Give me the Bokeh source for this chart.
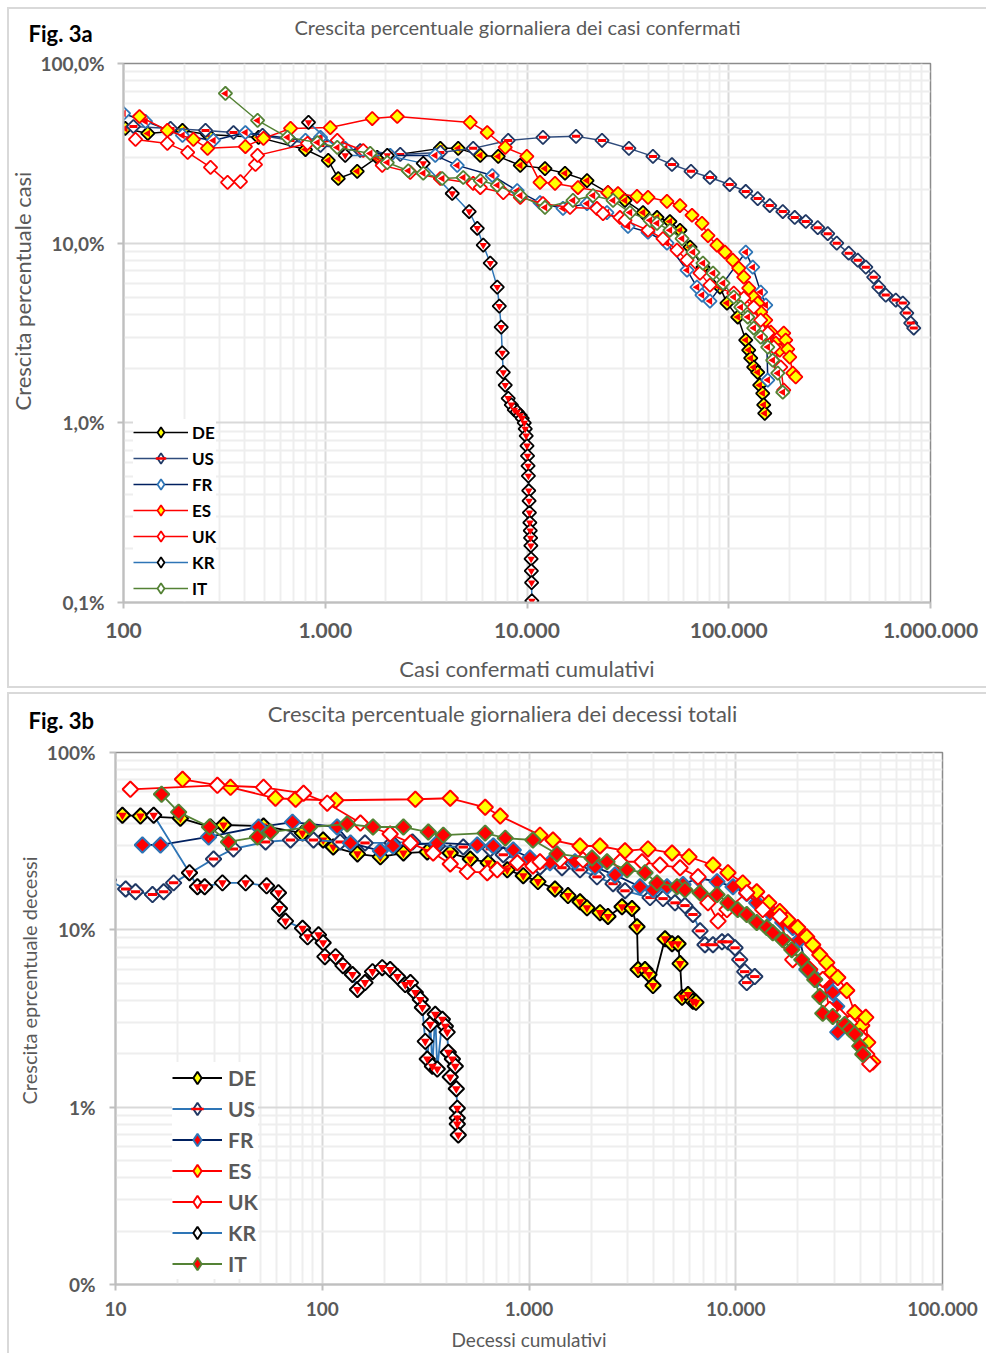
import math
from bokeh.plotting import figure
from bokeh.models import (FixedTicker, Legend, LegendItem, Range1d, ColumnDataSource, Title)
from bokeh.core.properties import value
from bokeh.embed import file_html
from bokeh.resources import INLINE

FONT = "Lato"
GRAY = "#595959"

paesi = ["DE", "US", "FR", "ES", "UK", "KR", "IT"]

# ---------------- Fig. 3a : casi confermati ----------------
casi_DE = [102, 132, 196, 261, 467, 798, 1035, 1160, 1440, 1810, 3720, 4560, 5870, 7200, 9260,
           12280, 15430, 19840, 25200, 30600, 37600, 44100, 51100, 57300, 64300, 74500, 90500,
           98000, 110800, 121400, 125600, 128500, 133000, 139200, 142400, 147400, 149100, 150800]
cresc_casi_DE = [43.5, 40.8, 42.4, 40.3, 38.8, 33.2, 28.9, 22.9, 25.1, 30.0, 33.7, 33.7, 30.8, 30.4,
                 27.1, 26.0, 24.5, 22.3, 19.1, 17.3, 14.8, 13.9, 13.2, 11.8, 9.50, 7.35, 5.69, 4.64,
                 3.88, 2.89, 2.54, 2.29, 2.04, 1.91, 1.62, 1.46, 1.26, 1.13]

casi_US = [112, 171, 255, 351, 489, 673, 947, 1491, 2354, 3720, 5410, 8070, 12000, 17500, 23540,
           32000, 42100, 52300, 65000, 80700, 101100, 121400, 139200, 159700, 185300, 212400,
           240800, 276100, 309500, 343000, 393000, 436000, 478000, 523000, 554000, 600000,
           673000, 729000, 763000, 798000, 826000]
cresc_casi_US = [44.6, 43.5, 42.4, 41.3, 39.8, 37.3, 35.0, 32.8, 31.2, 32.0, 33.7, 37.3, 38.8, 39.3,
                 37.3, 33.7, 30.4, 27.4, 25.1, 23.2, 21.2, 19.4, 17.7, 16.2, 15.0, 13.9, 13.2, 12.2,
                 11.3, 10.0, 8.80, 8.04, 7.35, 6.47, 5.69, 5.14, 4.82, 4.64, 4.08, 3.59, 3.37]

casi_FR = [100, 128.5, 196, 279, 402, 798, 947, 1256, 2100, 3510, 4510, 6730, 8940, 11600, 15080,
           19840, 24900, 31670, 39800, 49400, 62100, 69600, 73700, 80700, 121400, 131500, 144000,
           152500, 154300, 156100]
cresc_casi_FR = [52.7, 47.6, 39.8, 37.3, 41.3, 37.3, 38.8, 33.7, 30.8, 30.8, 27.1, 23.8, 19.6, 16.8,
                 15.6, 16.6, 14.8, 12.4, 11.5, 10.0, 7.07, 5.69, 5.14, 4.76, 8.91, 7.35, 5.34, 4.52,
                 2.89, 1.73]

casi_ES = [120, 165, 222, 261, 402, 494, 673, 1059, 1710, 2275, 5230, 6350, 7800, 9980, 11600,
           13770, 17890, 25200, 28250, 35100, 39800, 49400, 57300, 65750, 73700, 78900, 87400,
           95800, 104700, 112100, 118700, 125600, 133000, 139200, 144000, 152500, 161500, 171000,
           178900, 187300, 191600, 196000, 200600, 207600, 214800]
cresc_casi_ES = [50.7, 42.4, 37.8, 33.7, 34.5, 38.3, 43.5, 44.0, 49.4, 50.7, 47.0, 41.3, 34.1, 30.4,
                 21.8, 21.5, 20.4, 19.1, 18.9, 18.2, 18.0, 17.1, 16.2, 14.3, 12.9, 11.0, 9.75, 8.91,
                 8.04, 7.26, 6.47, 5.62, 5.01, 4.64, 4.13, 3.73, 3.20, 2.78, 2.54, 3.16, 2.89, 2.57,
                 2.32, 1.89, 1.80]

casi_UK = [114.7, 165, 208, 270, 328, 380, 451, 462, 817, 1147, 1543, 1916, 2638, 3720, 5410, 5870,
           7630, 9260, 12000, 16340, 22200, 23810, 28900, 30600, 39800, 47200, 55400, 62100, 72000,
           80700, 105900, 118700, 133000, 144000, 156100, 167100, 181000, 187300]
cresc_casi_UK = [37.8, 35.9, 32.0, 26.4, 21.8, 22.0, 27.4, 30.8, 35.9, 37.3, 32.8, 27.1, 24.8, 22.9,
                 21.5, 20.4, 19.1, 18.0, 16.6, 15.8, 15.6, 14.6, 13.9, 13.4, 11.8, 10.6, 9.14, 8.04,
                 6.81, 5.84, 5.27, 4.94, 4.40, 3.73, 3.16, 2.64, 2.04, 1.52]

casi_KR = [826, 1256, 2030, 3060, 4260, 5170, 5670, 6070, 6575, 7120, 7290, 7450, 7540, 7630, 7800,
           8070, 8360, 8650, 8940, 9260, 9470, 9690, 9800, 9910, 10000, 10060, 10120, 10160, 10200,
           10240, 10280, 10330, 10380, 10420, 10450, 10480, 10510, 10540, 10570]
cresc_casi_KR = [47.0, 30.8, 30.8, 27.8, 18.9, 15.0, 12.1, 9.75, 7.74, 5.69, 4.46, 3.41, 2.45, 1.91,
                 1.62, 1.37, 1.26, 1.18, 1.15, 1.10, 1.06, 1.00, 0.926, 0.847, 0.745, 0.655, 0.576,
                 0.507, 0.419, 0.368, 0.316, 0.278, 0.251, 0.229, 0.207, 0.175, 0.150, 0.129, 0.102]

casi_IT = [320, 462, 650, 915, 1147, 1671, 2030, 2580, 3060, 3800, 4830, 5870, 7120, 9260, 12280,
           16900, 21240, 26700, 32400, 40700, 44100, 51100, 58700, 66500, 74500, 83600, 93700,
           105900, 114700, 124200, 133000, 144000, 156100, 165200, 175000, 185300]
cresc_casi_IT = [68.1, 48.2, 38.8, 36.3, 34.1, 31.6, 28.1, 25.3, 24.5, 22.9, 23.2, 22.3, 21.0, 18.4,
                 15.8, 17.3, 18.4, 17.3, 14.8, 13.4, 12.9, 11.8, 10.6, 8.91, 7.74, 6.81, 5.99, 5.01,
                 4.40, 3.88, 3.37, 3.00, 2.64, 2.23, 1.89, 1.48]

# ---------------- Fig. 3b : decessi ----------------
decessi_DE = [10.8, 13.2, 20.6, 28.8, 33.3, 52.0, 80.3, 101, 113, 148, 191, 247, 322, 416, 520, 635,
              785, 938, 1105, 1336, 1544, 1765, 1908, 2205, 2410, 2818, 3148, 3330, 3370, 3640, 3806,
              3980, 4550, 4920, 5260, 5380, 5500, 5875, 6210, 6420]
cresc_decessi_DE = [44.3, 43.8, 42.6, 38.0, 39.0, 38.5, 35.1, 32.1, 29.3, 26.8, 25.8, 27.1, 27.5, 27.1,
                    25.1, 23.9, 21.8, 20.2, 18.7, 17.0, 15.6, 14.4, 13.3, 12.5, 11.9, 13.5, 13.2, 10.4,
                    5.97, 5.97, 5.60, 4.85, 8.90, 8.35, 8.35, 6.45, 4.16, 4.32, 3.95, 3.90]

decessi_US = [9.25, 11.2, 12.5, 15.1, 17.1, 19.1, 29.8, 37.2, 53.2, 70.2, 90.7, 122, 161, 218, 273,
              360, 481, 650, 751, 1130, 1444, 1765, 2133, 2550, 2913, 3850, 4450, 5085, 5680, 6210,
              6720, 7100, 7760, 8580, 9170, 9920, 10450, 11050, 11300, 12360]
cresc_decessi_US = [19.1, 17.0, 16.4, 15.8, 16.4, 18.4, 25.1, 28.6, 31.3, 32.1, 32.1, 31.3, 30.9, 30.9,
                    31.3, 29.7, 29.3, 28.6, 26.5, 22.6, 22.4, 21.8, 19.9, 18.2, 16.6, 15.2, 15.0, 14.2,
                    13.7, 12.2, 9.87, 8.24, 8.24, 8.56, 8.56, 7.92, 6.79, 5.81, 5.04, 5.45]

decessi_FR = [13.5, 16.5, 28.2, 49.2, 71.8, 118, 137, 191, 220, 360, 562, 672, 839, 1011, 1263, 1669,
              2086, 2606, 3443, 3980, 4650, 5560, 6570, 8120, 9700, 11300, 12630, 14600, 16880,
              18870, 20400, 22050, 24650, 27550, 29460, 30800, 31150]
cresc_decessi_FR = [30.1, 30.1, 33.4, 38.0, 40.5, 38.0, 30.9, 27.9, 29.7, 30.9, 30.1, 29.7, 28.2, 25.4,
                    23.9, 24.2, 22.6, 20.4, 17.5, 16.8, 17.5, 18.0, 19.6, 18.7, 17.5, 16.0, 14.2, 12.5,
                    11.0, 10.3, 8.79, 5.97, 5.25, 5.04, 4.43, 3.70, 2.65]

decessi_ES = [21.1, 36.0, 59.4, 74.3, 116, 282, 416, 614, 726, 1130, 1306, 1765, 2205, 2913, 3763,
              4920, 5943, 7760, 9170, 10810, 12630, 14440, 16320, 17840, 19950, 22050, 23570, 25500,
              27550, 29130, 31150, 34430, 37630, 40700, 42550, 43500, 46000]
cresc_decessi_ES = [70.6, 63.6, 55.2, 54.5, 53.8, 54.5, 55.2, 49.1, 43.8, 34.2, 32.1, 29.7, 29.7, 27.9,
                    28.6, 27.1, 25.8, 23.2, 21.0, 18.4, 16.4, 14.2, 12.7, 11.4, 10.3, 9.13, 8.24, 7.24,
                    6.53, 5.74, 5.38, 4.55, 3.42, 2.89, 3.21, 2.32, 1.80]

decessi_UK = [11.8, 31.1, 52.0, 81.2, 105.7, 153, 213, 267, 344, 416, 503, 628, 702, 878, 1045, 1130,
              1412, 1825, 2755, 3520, 4300, 5380, 6570, 7340, 8210, 9070, 11300, 13510, 16320, 17650,
              18870, 22800, 26350, 28490, 31840, 35600, 39800, 43000, 44500]
cresc_decessi_UK = [62.0, 65.3, 63.6, 58.9, 51.8, 40.0, 34.7, 30.9, 27.1, 23.5, 21.3, 21.0, 21.8, 23.9,
                    22.9, 24.2, 24.8, 24.8, 24.2, 24.2, 23.2, 22.4, 19.9, 14.2, 11.2, 13.0, 16.2, 13.0,
                    11.9, 8.46, 6.79, 5.97, 5.25, 3.56, 3.25, 2.99, 2.51, 1.99, 1.75]

decessi_KR = [15.3, 22.8, 24.9, 27.0, 32.9, 42.6, 53.8, 61.4, 62.1, 66.4, 80.3, 84.9, 95.9, 101, 103,
              116, 126, 140, 148, 161, 175, 195, 213, 231, 252, 267, 282, 298, 305, 315, 322, 333,
              341, 352, 360, 381, 394, 402, 407, 416, 426, 440, 445, 450, 450, 450, 455]
cresc_decessi_KR = [44.3, 21.0, 17.5, 17.5, 18.4, 18.4, 17.7, 16.2, 13.2, 11.2, 10.2, 9.13, 9.37, 8.46,
                    7.06, 7.06, 6.28, 5.60, 4.61, 5.04, 5.81, 6.12, 5.97, 5.45, 4.91, 5.04, 4.43, 4.05,
                    3.65, 2.35, 1.87, 2.93, 1.70, 3.34, 1.64, 3.13, 2.86, 2.65, 2.04, 1.48, 1.87, 1.70,
                    1.27, 0.987, 0.868, 0.803, 0.697]

decessi_IT = [16.7, 20.2, 28.5, 35.2, 48.6, 56.2, 86.7, 132, 176, 247, 326, 385, 614, 768, 1045, 1366,
              2017, 2384, 2980, 3640, 4160, 5200, 5680, 6720, 8120, 9170, 10220, 11300, 12630, 14120,
              15100, 16880, 18660, 20860, 22300, 24100, 25500, 26350, 29460, 33670, 35600, 37630,
              39800, 41150]
cresc_decessi_IT = [58.1, 46.1, 38.0, 31.3, 33.4, 35.6, 38.0, 39.5, 38.0, 38.0, 35.6, 34.2, 35.1, 32.9,
                    32.1, 26.8, 25.4, 24.2, 21.8, 21.0, 18.4, 17.5, 16.8, 16.2, 15.8, 14.2, 13.0, 12.2,
                    11.0, 10.3, 9.62, 8.79, 7.73, 6.79, 5.97, 5.25, 4.21, 3.38, 3.25, 2.93, 2.75, 2.58,
                    2.21, 1.99]

# ---------------- ticks ----------------
x_ticks_a = [100, 1000, 10000, 100000, 1000000]
x_labels_a = ["100", "1.000", "10.000", "100.000", "1.000.000"]
y_ticks_a = [0.1, 1, 10, 100]
y_labels_a = ["0,1%", "1,0%", "10,0%", "100,0%"]
x_ticks_b = [10, 100, 1000, 10000, 100000]
x_labels_b = ["10", "100", "1.000", "10.000", "100.000"]
y_ticks_b = [0.1, 1, 10, 100]
y_labels_b = ["0%", "1%", "10%", "100%"]

casi = dict(DE=casi_DE, US=casi_US, FR=casi_FR, ES=casi_ES, UK=casi_UK, KR=casi_KR, IT=casi_IT)
cresc_casi = dict(DE=cresc_casi_DE, US=cresc_casi_US, FR=cresc_casi_FR, ES=cresc_casi_ES,
                  UK=cresc_casi_UK, KR=cresc_casi_KR, IT=cresc_casi_IT)
decessi = dict(DE=decessi_DE, US=decessi_US, FR=decessi_FR, ES=decessi_ES, UK=decessi_UK,
               KR=decessi_KR, IT=decessi_IT)
cresc_decessi = dict(DE=cresc_decessi_DE, US=cresc_decessi_US, FR=cresc_decessi_FR,
                     ES=cresc_decessi_ES, UK=cresc_decessi_UK, KR=cresc_decessi_KR,
                     IT=cresc_decessi_IT)

RED, YEL, WHITE, BLACK = "#ff0000", "#ffff00", "#ffffff", "#000000"
NAVY, BLUE, DNAVY, GREEN = "#203864", "#2e75b6", "#002060", "#548235"
BOX = "#d9d9d9"

stili_a = {
    "DE": dict(line=BLACK, edge=BLACK, fill=YEL, inner="left"),
    "US": dict(line="#2f4b7c", edge=NAVY, fill=WHITE, inner="stripe"),
    "FR": dict(line=DNAVY, edge=BLUE, fill=WHITE, inner="left"),
    "ES": dict(line=RED, edge=RED, fill=YEL, inner=None),
    "UK": dict(line=RED, edge=RED, fill=WHITE, inner=None),
    "KR": dict(line=BLUE, edge=BLACK, fill=WHITE, inner="bottom"),
    "IT": dict(line=GREEN, edge=GREEN, fill=WHITE, inner="left"),
}
stili_b = {
    "DE": dict(line=BLACK, edge=BLACK, fill=YEL, inner="bottom"),
    "US": dict(line=BLUE, edge=NAVY, fill=WHITE, inner="stripe"),
    "FR": dict(line=DNAVY, edge=BLUE, fill=RED, inner=None),
    "ES": dict(line=RED, edge=RED, fill=YEL, inner=None),
    "UK": dict(line=RED, edge=RED, fill=WHITE, inner=None),
    "KR": dict(line=BLUE, edge=BLACK, fill=WHITE, inner="bottom"),
    "IT": dict(line=GREEN, edge=GREEN, fill=RED, inner=None),
}


def minors(ticks):
    out = []
    for t in ticks[:-1]:
        out += [t * m for m in range(2, 10)]
    return out


def box_css(parts):
    """CSS background drawing the light-grey panel frame lines of the original sheet."""
    layers = [f"linear-gradient({BOX}, {BOX}) {x}px {y}px / {w}px {h}px no-repeat"
              for (x, y, w, h) in parts]
    return {"background": ", ".join(layers + ["#ffffff"])}


def header(W, H, fig_text, fig_xy, fig_size, title, title_xy, title_size, parts):
    h = figure(width=W, height=H, x_range=Range1d(0, W), y_range=Range1d(H, 0),
               output_backend="svg", toolbar_location=None, title=None,
               x_axis_location=None, y_axis_location=None,
               min_border=0, min_border_left=0, min_border_right=0,
               min_border_top=0, min_border_bottom=0)
    h.grid.visible = False
    h.outline_line_color = None
    h.background_fill_alpha = 0
    h.border_fill_alpha = 0
    h.styles = box_css(parts)
    h.text(x=[fig_xy[0]], y=[fig_xy[1]], text=[fig_text], text_font=value(FONT),
           text_font_size=value(f"{fig_size}px"), text_font_style="bold", text_color=BLACK,
           text_align="left", text_baseline="middle")
    h.text(x=[title_xy[0]], y=[title_xy[1]], text=[title], text_font=value(FONT),
           text_font_size=value(f"{title_size}px"), text_color=GRAY,
           text_align="center", text_baseline="middle")
    return h


def chart(W, H, bl, br, bt, bb, xr, yr, xt, xl, yt, yl, xs, ys, stili, msize, mlw, llw,
          xfs, yfs, xstand, ystand, xlabel, ylabel, xlab_size, ylab_size, xlab_stand,
          ylab_offset, ylab_standoff, leg_loc, gw, gh, sp, lab_font, lab_col, lab_stand, parts):
    p = figure(width=W, height=H, x_axis_type="log", y_axis_type="log",
               x_range=Range1d(*xr), y_range=Range1d(*yr),
               output_backend="svg", toolbar_location=None, title=None,
               min_border_left=bl, min_border_right=br, min_border_top=bt,
               min_border_bottom=bb)
    p.background_fill_color = WHITE
    p.border_fill_alpha = 0
    p.styles = box_css(parts)
    p.outline_line_color = "#8c8c8c"
    p.outline_line_width = 1.5
    xtk = FixedTicker(ticks=xt, minor_ticks=minors(xt))
    ytk = FixedTicker(ticks=yt, minor_ticks=minors(yt))
    p.xaxis.ticker = xtk
    p.xgrid.ticker = xtk
    p.yaxis.ticker = ytk
    p.ygrid.ticker = ytk
    p.xaxis.major_label_overrides = {float(t): l for t, l in zip(xt, xl)}
    p.yaxis.major_label_overrides = {float(t): l for t, l in zip(yt, yl)}
    for g in (p.xgrid, p.ygrid):
        g.grid_line_color = "#d9d9d9"
        g.grid_line_width = 2
        g.minor_grid_line_color = "#eeeeee"
        g.minor_grid_line_width = 2
    for ax in (p.xaxis, p.yaxis):
        ax.axis_line_color = "#bfbfbf"
        ax.axis_line_width = 2
        ax.major_tick_line_color = "#bfbfbf"
        ax.major_tick_line_width = 2
        ax.major_tick_out = 6
        ax.major_tick_in = 0
        ax.minor_tick_out = 0
        ax.minor_tick_in = 0
        ax.major_label_text_font = FONT
        ax.major_label_text_font_style = "bold"
        ax.major_label_text_color = GRAY
        ax.axis_label_text_font = FONT
        ax.axis_label_text_font_style = "normal"
        ax.axis_label_text_color = GRAY
        ax.axis_label_text_font_size = f"{xlab_size}px"
    p.xaxis.major_label_text_font_size = f"{xfs}px"
    p.yaxis.major_label_text_font_size = f"{yfs}px"
    p.xaxis.major_label_standoff = xstand
    p.yaxis.major_label_standoff = ystand
    p.xaxis.axis_label = xlabel
    p.xaxis.axis_label_standoff = xlab_stand
    # y-axis title as a side title, starting at the same height as in the original
    p.add_layout(Title(text=ylabel, align="left", offset=ylab_offset, standoff=ylab_standoff,
                       text_font=FONT, text_font_size=f"{ylab_size}px",
                       text_font_style="normal", text_color=GRAY), "left")

    items = []
    for c in paesi:
        st = stili[c]
        src = ColumnDataSource(dict(x=xs[c], y=ys[c]))
        rl = p.line("x", "y", source=src, line_color=st["line"], line_width=llw)
        p.scatter("x", "y", source=src, marker="square", angle=math.pi / 4, size=msize,
                  fill_color=st["fill"], line_color=st["edge"], line_width=mlw)
        if st["inner"] == "bottom":
            p.scatter("x", "y", source=src, marker="inverted_triangle",
                      size=msize * 0.8, fill_color=RED, line_color=None)
        elif st["inner"] == "left":
            p.scatter("x", "y", source=src, marker="triangle", angle=math.pi / 2,
                      size=msize * 0.8, fill_color=RED, line_color=None)
        elif st["inner"] == "stripe":
            p.scatter("x", "y", source=src, marker="dash", size=msize * 0.85,
                      line_color=RED, line_width=3)
        # legend sample glyphs: a single undefined point, never drawn in the plot area
        nil = ColumnDataSource(dict(x=[float("nan")], y=[float("nan")]))
        lm = p.scatter("x", "y", source=nil, marker="diamond", size=msize,
                       fill_color=st["fill"], line_color=st["edge"], line_width=mlw)
        rends = [rl, lm]
        if st["inner"] == "stripe":
            rends.append(p.scatter("x", "y", source=nil, marker="dash", size=msize,
                                   line_color=RED, line_width=2.5))
        items.append(LegendItem(label=c, renderers=rends))

    leg = Legend(items=items, location=leg_loc, glyph_width=gw, glyph_height=gh,
                 label_height=gh, spacing=sp, padding=5, label_standoff=lab_stand,
                 label_text_font=FONT, label_text_font_style="bold",
                 label_text_font_size=f"{lab_font}px", label_text_color=lab_col,
                 background_fill_color=WHITE, background_fill_alpha=1.0,
                 border_line_color=None, margin=0)
    p.add_layout(leg)
    return p


# ---- Fig. 3a ----
h1 = header(986, 50, "Fig. 3a", (28, 33), 22,
            "Crescita percentuale giornaliera dei casi confermati", (517, 26), 20,
            parts=[(7, 7, 2, 43), (7, 7, 979, 2)])
p1 = chart(986, 640, 123, 56, 13, 88, (100, 1e6), (0.1, 100),
           x_ticks_a, x_labels_a, y_ticks_a, y_labels_a, casi, cresc_casi, stili_a,
           msize=9.5, mlw=1.8, llw=1.5, xfs=21, yfs=19, xstand=14, ystand=13,
           xlabel="Casi confermati cumulativi", ylabel="Crescita percentuale casi",
           xlab_size=22, ylab_size=22, xlab_stand=14, ylab_offset=192, ylab_standoff=4,
           leg_loc=(10, 1), gw=55, gh=26, sp=0, lab_font=17, lab_col=BLACK, lab_stand=4,
           parts=[(7, 0, 2, 638), (7, 636, 979, 2)])

# ---- Fig. 3b ----
h2 = header(986, 50, "Fig. 3b", (28, 30), 22,
            "Crescita percentuale giornaliera dei decessi totali", (502, 23), 22,
            parts=[(7, 2, 2, 48), (7, 2, 979, 2)])
p2 = chart(986, 613, 115, 44, 12, 66, (10, 1e5), (0.1, 100),
           x_ticks_b, x_labels_b, y_ticks_b, y_labels_b, decessi, cresc_decessi, stili_b,
           msize=11, mlw=2.0, llw=1.8, xfs=19, yfs=19, xstand=11, ystand=14,
           xlabel="Decessi cumulativi", ylabel="Crescita eprcentuale decessi",
           xlab_size=19, ylab_size=20, xlab_stand=9, ylab_offset=180, ylab_standoff=6,
           leg_loc=(57, 5), gw=50, gh=31, sp=0, lab_font=21, lab_col=GRAY, lab_stand=6,
           parts=[(7, 0, 2, 613)])

open("out.html", "w").write(file_html([h1, p1, h2, p2], INLINE))
